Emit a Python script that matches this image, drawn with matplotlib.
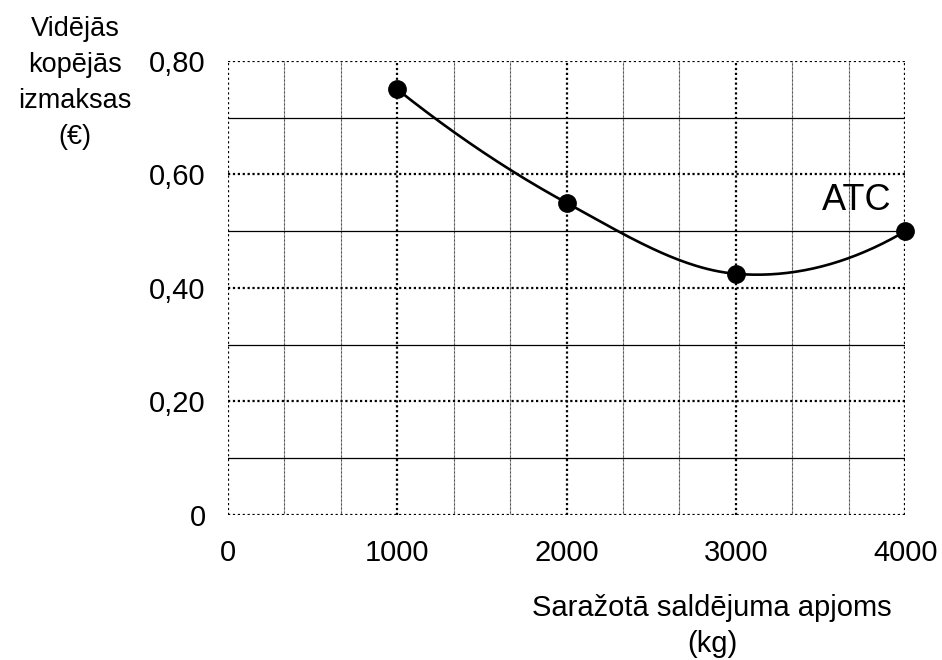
"""ATC curve: average total cost vs. produced ice cream volume."""

import numpy as np
from matplotlib import pyplot as plt

# data
volume_kg = [1000, 2000, 3000, 4000]
atc_eur = [0.75, 0.55, 0.425, 0.50]

x_ticks = [0, 1000, 2000, 3000, 4000]
y_ticks = [0, 0.2, 0.4, 0.6, 0.8]
y_tick_labels = ['0', '0,20', '0,40', '0,60', '0,80']


def smooth_curve(xs, ys, n=60):
    """Smoothed line through the points (Bezier segments, tension 1/6)."""
    pts = np.column_stack([xs, ys]).astype(float)
    # phantom end points by quadratic extrapolation
    first = 3 * pts[0] - 3 * pts[1] + pts[2]
    last = 3 * pts[-1] - 3 * pts[-2] + pts[-3]
    padded = np.vstack([first, pts, last])
    t = np.linspace(0, 1, n)[:, None]
    out = []
    for i in range(len(pts) - 1):
        p0 = padded[i + 1]
        p3 = padded[i + 2]
        p1 = p0 + (padded[i + 2] - padded[i]) / 6
        p2 = p3 - (padded[i + 3] - padded[i + 1]) / 6
        seg = ((1 - t) ** 3) * p0 + 3 * ((1 - t) ** 2) * t * p1 + 3 * (1 - t) * t ** 2 * p2 + t ** 3 * p3
        out.append(seg)
    out = np.vstack(out)
    return out[:, 0], out[:, 1]


plt.rcParams['font.family'] = ['Liberation Sans', 'DejaVu Sans']

fig = plt.figure(figsize=(9.42, 6.6), dpi=100)
ax = fig.add_axes([0.242, 0.2197, 0.719, 0.6879])
ax.set_xlim(0, 4000)
ax.set_ylim(0, 0.8)

# grid
for xv in np.arange(0, 4001, 1000 / 3):
    if round(xv) % 1000 == 0:
        ax.axvline(xv, color='black', lw=1.6, ls=(0, (1, 1.2)), zorder=1)
    else:
        ax.axvline(xv, color='black', lw=0.8, ls=(0, (0.6, 0.6)), zorder=1)
for yv in np.arange(0, 0.81, 0.1):
    if round(yv * 10) % 2 == 0:
        ax.axhline(yv, color='black', lw=1.6, ls=(0, (1, 1.2)), zorder=1)
    else:
        ax.axhline(yv, color='black', lw=0.9, zorder=1)

cx, cy = smooth_curve(volume_kg, atc_eur)
ax.plot(cx, cy, color='black', lw=1.9, zorder=3)
ax.plot(volume_kg, atc_eur, 'o', color='black', ms=12.5, zorder=4, clip_on=False)

for s in ax.spines.values():
    s.set_visible(False)
ax.set_xticks(x_ticks)
ax.set_xticklabels([str(v) for v in x_ticks])
ax.set_yticks(y_ticks)
ax.set_yticklabels(y_tick_labels)
ax.tick_params(length=0, labelsize=21)
ax.tick_params(axis='x', pad=17)
ax.tick_params(axis='y', pad=16)

ax.text(3716, 0.555, 'ATC', fontsize=26, ha='center', va='center')

fig.text(75 / 942, 1 - 16 / 660, 'Vidējās\nkopējās\nizmaksas\n(€)', fontsize=19.5,
         ha='center', va='top', linespacing=1.5)
fig.text(712 / 942, 1 - 658 / 660, 'Saražotā saldējuma apjoms\n(kg)', fontsize=21,
         ha='center', va='bottom', linespacing=1.35)

fig.savefig('out.png', dpi=100)
